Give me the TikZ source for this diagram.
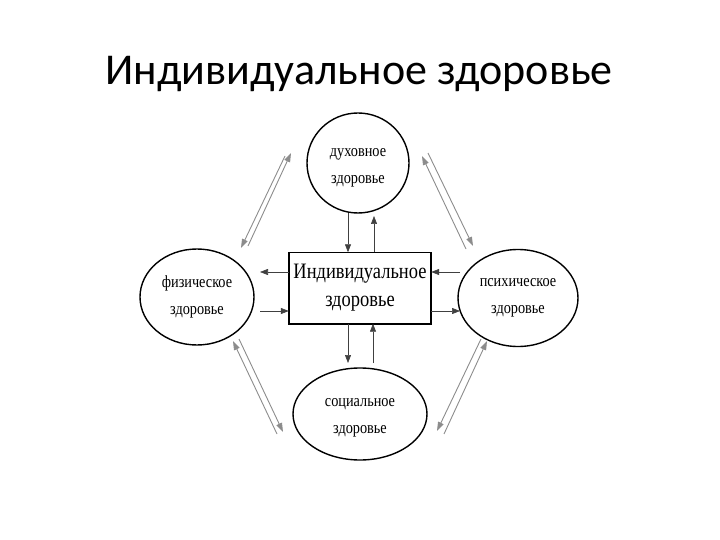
\documentclass[tikz,border=0pt]{standalone}
\usepackage{fontspec}
\setmainfont{Liberation Serif}
\newfontfamily\titlefont{Carlito}
\newfontfamily\diagfont[FakeStretch=0.84]{Liberation Serif}
\usetikzlibrary{shapes.geometric,arrows.meta}
\begin{document}
\begin{tikzpicture}[x=1pt,y=-1pt,
  ell/.style={draw=black,line width=1.4pt,ellipse,inner sep=0pt,font=\diagfont\fontsize{17}{27}\selectfont,align=center},
  ellt/.style={font=\diagfont\fontsize{17}{27}\selectfont,align=center,inner sep=0pt},
  boxn/.style={rectangle,inner sep=0pt,font=\diagfont\fontsize{22}{28}\selectfont,align=center},
  boxline/.style={draw=black,line width=1.6pt},
  sarr/.style={-{Triangle[length=8pt,width=6pt]},line width=0.6pt,draw=black!75},
  darr/.style={-{Triangle[length=9pt,width=6pt]},line width=0.9pt,draw=black!45}]
\useasboundingbox (0,0) rectangle (720,540);
\node[font=\titlefont\fontsize{44}{50}\selectfont,anchor=base] (title) at (359,85) {Индивидуальное здоровье};
\node[ell,minimum width=102pt,minimum height=100pt] (top) at (358,163) {};
\node[ellt] (toptext) at (358,168) {духовное\\здоровье};
\node[ell,minimum width=114pt,minimum height=96pt] (left) at (197,297) {физическое\\здоровье};
\node[ell,minimum width=120pt,minimum height=97pt] (right) at (518,298) {психическое\\здоровье};
\node[ell,minimum width=134pt,minimum height=92pt] (bot) at (360,414) {};
\node[ellt] (bottext) at (360,418) {социальное\\здоровье};
\node[boxn,minimum width=142pt,minimum height=71pt] (box) at (360,288) {Индивидуальное\\здоровье};
\draw[boxline] (box.north west) rectangle (box.south east);
% vertical arrows
\coordinate (t1) at (348,213); \coordinate (t2) at (374,216);
\draw[sarr] (t1) -- (t1 |- box.north);
\draw[sarr] (t2 |- box.north) -- (t2);
\coordinate (b1) at (348,363); \coordinate (b2) at (373,363);
\draw[sarr] (b1 |- box.south) -- (b1);
\draw[sarr] (b2) -- (b2 |- box.south);
% horizontal arrows
\coordinate (l1) at (260,272); \coordinate (l2) at (260,311);
\draw[sarr] (l1 -| box.west) -- (l1);
\draw[sarr] (l2) -- (l2 -| box.west);
\coordinate (r1) at (460,272); \coordinate (r2) at (460,311);
\draw[sarr] (r1) -- (r1 -| box.east);
\draw[sarr] (r2 -| box.east) -- (r2);
% diagonal double arrows
\coordinate (a1) at (248,246); \coordinate (a2) at (291,153);
\coordinate (a3) at (285,156); \coordinate (a4) at (241,248);
\draw[darr] (a1) -- (a2);
\draw[darr] (a3) -- (a4);
\coordinate (c1) at (466,249); \coordinate (c2) at (422,156);
\coordinate (c3) at (428,153); \coordinate (c4) at (473,246);
\draw[darr] (c1) -- (c2);
\draw[darr] (c3) -- (c4);
\coordinate (d1) at (277,434); \coordinate (d2) at (233,341);
\coordinate (d3) at (239,339); \coordinate (d4) at (283,432);
\draw[darr] (d1) -- (d2);
\draw[darr] (d3) -- (d4);
\coordinate (e1) at (444,434); \coordinate (e2) at (487,341);
\coordinate (e3) at (481,339); \coordinate (e4) at (437,431);
\draw[darr] (e1) -- (e2);
\draw[darr] (e3) -- (e4);
\end{tikzpicture}
\end{document}
